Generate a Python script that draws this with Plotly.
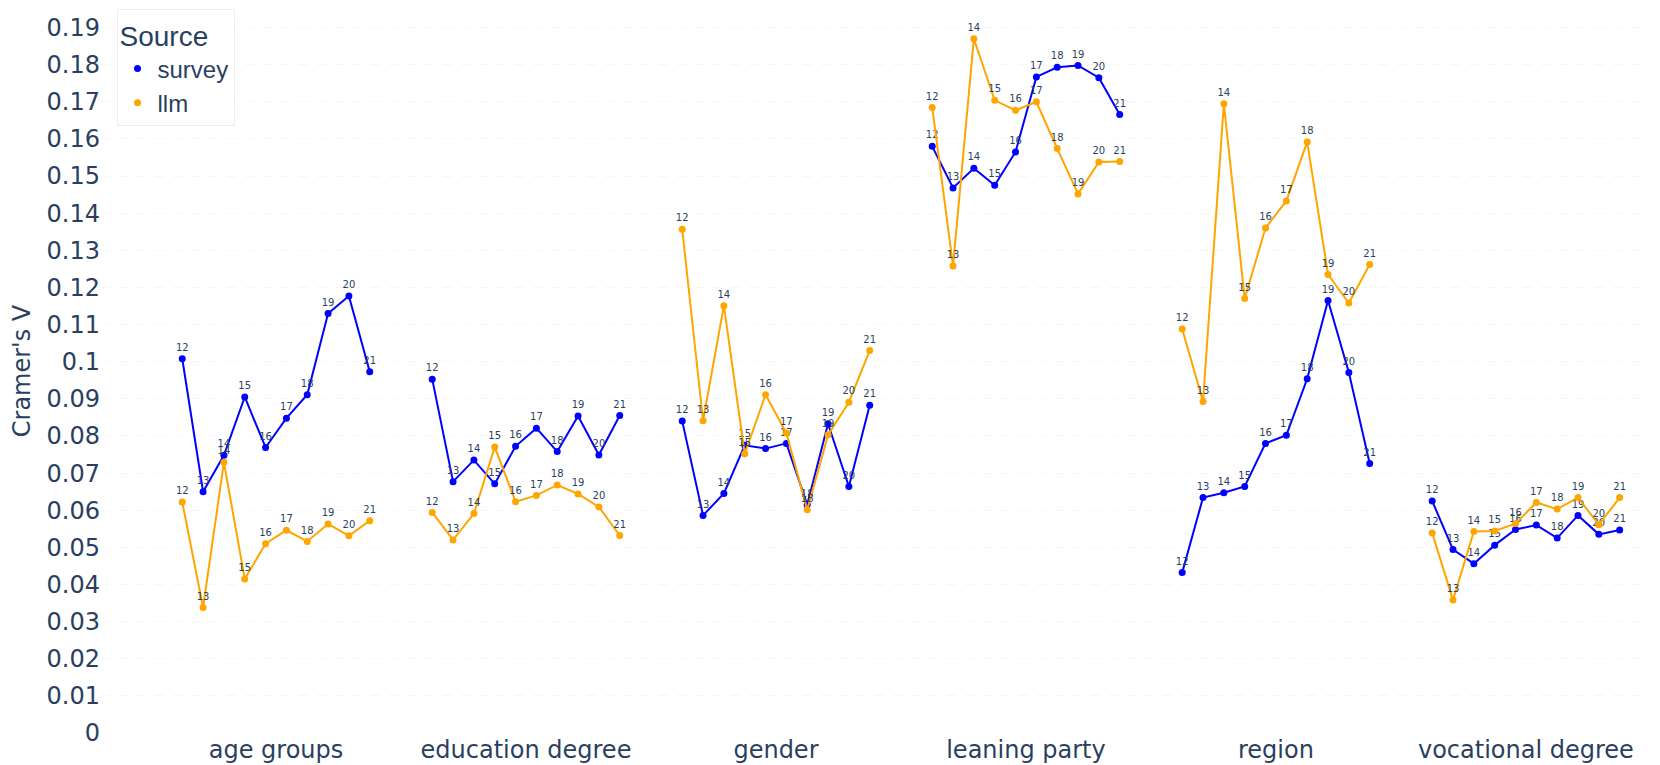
import plotly.graph_objects as go

# survey waves and attribute groups
waves = [12, 13, 14, 15, 16, 17, 18, 19, 20, 21]
groups = ["age groups", "education degree", "gender", "leaning party", "region", "vocational degree"]

# Cramer's V per group, wave 12..21
survey = {
    "age groups":        [0.1008, 0.0650, 0.0748, 0.0905, 0.0769, 0.0848, 0.0911, 0.1130, 0.1177, 0.0973],
    "education degree":  [0.0953, 0.0677, 0.0735, 0.0671, 0.0772, 0.0821, 0.0758, 0.0854, 0.0749, 0.0855],
    "gender":            [0.0840, 0.0586, 0.0645, 0.0775, 0.0766, 0.0780, 0.0615, 0.0833, 0.0664, 0.0883],
    "leaning party":     [0.1580, 0.1468, 0.1521, 0.1475, 0.1565, 0.1767, 0.1793, 0.1798, 0.1765, 0.1666],
    "region":            [0.0432, 0.0634, 0.0647, 0.0664, 0.0780, 0.0802, 0.0954, 0.1165, 0.0971, 0.0726],
    "vocational degree": [0.0625, 0.0494, 0.0456, 0.0506, 0.0548, 0.0560, 0.0525, 0.0586, 0.0535, 0.0547],
}
llm = {
    "age groups":        [0.0622, 0.0338, 0.0729, 0.0415, 0.0510, 0.0546, 0.0516, 0.0563, 0.0531, 0.0572],
    "education degree":  [0.0594, 0.0520, 0.0591, 0.0770, 0.0623, 0.0640, 0.0668, 0.0644, 0.0609, 0.0532],
    "gender":            [0.1357, 0.0841, 0.1151, 0.0752, 0.0911, 0.0808, 0.0601, 0.0803, 0.0891, 0.1030],
    "leaning party":     [0.1685, 0.1258, 0.1870, 0.1704, 0.1677, 0.1700, 0.1574, 0.1452, 0.1538, 0.1539],
    "region":            [0.1088, 0.0893, 0.1695, 0.1170, 0.1360, 0.1433, 0.1592, 0.1235, 0.1158, 0.1262],
    "vocational degree": [0.0539, 0.0358, 0.0543, 0.0544, 0.0564, 0.0621, 0.0603, 0.0634, 0.0561, 0.0634],
}

sources = [("survey", survey, "blue"), ("llm", llm, "orange")]
step = len(waves) + 2  # slots per group incl. gap

fig = go.Figure()
for name, data, color in sources:
    xs, ys, txt = [], [], []
    for gi, g in enumerate(groups):
        xs += [gi * step + j for j in range(len(waves))] + [None]
        ys += data[g] + [None]
        txt += [str(w) for w in waves] + [""]
    fig.add_trace(go.Scatter(
        x=xs, y=ys, text=txt, name=name, mode="lines+markers+text",
        textposition="top center", textfont=dict(size=10, color="#2a3f5f"),
        line=dict(color=color, width=2), marker=dict(color=color, size=7),
        connectgaps=False, showlegend=False, legendgroup=name,
    ))
    # legend entry: dot only
    fig.add_trace(go.Scatter(
        x=[None], y=[None], name=name, mode="markers",
        marker=dict(color=color, size=7), legendgroup=name,
    ))

fig.update_layout(
    template="plotly_white",
    width=1660, height=765,
    margin=dict(l=93, r=15, t=1, b=40),
    font=dict(family="DejaVu Sans", size=24, color="#2a3f5f"),
    legend=dict(title=dict(text="Source", font=dict(family="Liberation Sans, Arial", size=28)),
                font=dict(family="Liberation Sans, Arial", size=24),
                x=0.01, y=1, xanchor="left", yanchor="top", itemwidth=30,
                bordercolor="#eeeeee", borderwidth=1, tracegroupgap=0),
)
fig.update_xaxes(
    range=[-3.9, 70.6], showgrid=False, zeroline=False, automargin=False,
    tickvals=[gi * step + (len(waves) - 1) / 2 for gi in range(len(groups))],
    ticktext=groups, tickfont=dict(size=24),
)
fig.update_yaxes(
    range=[0, 0.195], dtick=0.01, tickformat="~g", automargin=False,
    zeroline=False, gridcolor="#f6f6f6", griddash="dash",
    title=dict(text="Cramer's V", font=dict(size=24)), tickfont=dict(size=24),
)

fig.write_html("out.html")
